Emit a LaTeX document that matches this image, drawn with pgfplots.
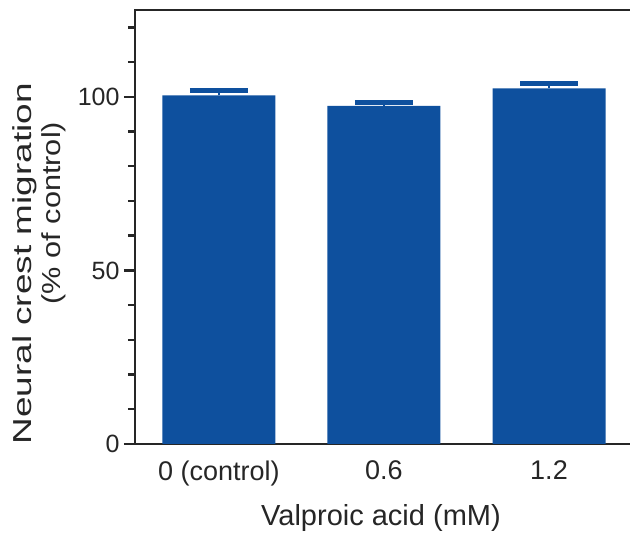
\documentclass[border=0pt]{standalone}
\usepackage{pgfplots}
\pgfplotsset{compat=1.18}
\usepackage{fontspec}
\setmainfont{Liberation Sans}
\definecolor{barblue}{RGB}{14,80,158}
\begin{document}
\begin{tikzpicture}
\path[use as bounding box] (-135pt,-91pt) rectangle (495pt,444pt);
\begin{axis}[
  at={(0,0)}, anchor=south west,
  scale only axis,
  width=497pt, height=434pt,
  xmin=-0.509, xmax=2.503,
  ymin=0, ymax=125,
  axis line style={line width=2.6pt, black!85},
  xtick={0,1,2},
  xticklabels={0 (control),0.6,1.2},
  x tick style={draw=none},
  ytick={0,50,100},
  minor ytick={10,20,30,40,60,70,80,90,110,120},
  y tick style={line width=2.4pt, black!85},
  tick align=outside,
  major tick length=11pt,
  minor tick length=7pt,
  /pgf/number format/assume math mode=true,
  xticklabel style={font=\fontsize{27}{30}\selectfont, text=black!85, yshift=-2pt},
  yticklabel style={font=\fontsize{25}{28}\selectfont, text=black!85, xshift=-1pt},
  xlabel={Valproic acid (mM)},
  xlabel style={font=\fontsize{29}{32}\selectfont, text=black!85, at={(axis description cs:0.495,-0.17)}, anchor=center},
  ylabel={\scalebox{1.42}[1]{Neural crest migration}},
  ylabel style={font=\fontsize{26}{30}\selectfont, text=black!85, at={(axis description cs:-0.222,0.415)}, anchor=center},
  ybar, bar width=113pt,
  clip=false,
]
\addplot[fill=barblue, draw=none,
  error bars/.cd, y dir=plus, y explicit,
  error bar style={barblue, line width=2pt},
  error mark options={rotate=90, mark size=29pt, line width=4.5pt, barblue}]
  coordinates {(0,100.4) +- (0,1.4) (1,97.4) +- (0,0.9) (2,102.4) +- (0,1.4)};
\node[rotate=90, font=\fontsize{26}{30}\selectfont, text=black!85] at (axis description cs:-0.164,0.532) {\scalebox{1.18}[1]{(\% of control)}};
\end{axis}
\end{tikzpicture}
\end{document}
